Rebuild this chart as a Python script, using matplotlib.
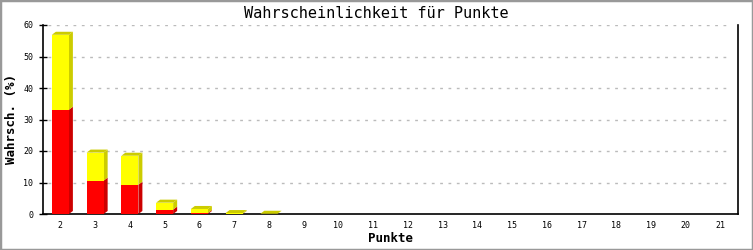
import numpy as np
import matplotlib
matplotlib.use("Agg")
from matplotlib import pyplot as plt
from matplotlib.patches import Polygon, Rectangle

# points 2..21, stacked probabilities in percent
punkte = list(range(2, 22))
rot = [33.1, 10.6, 9.3, 1.4, 0.3, 0.05, 0.0, 0, 0, 0, 0, 0, 0, 0, 0, 0, 0, 0, 0, 0]
gelb = [23.8, 8.9, 9.2, 2.2, 1.3, 0.25, 0.08, 0, 0, 0, 0, 0, 0, 0, 0, 0, 0, 0, 0, 0]

W, H = 753, 250
fig = plt.figure(figsize=(W / 100, H / 100), dpi=100)
ax = fig.add_axes([43 / W, 36 / H, (738 - 43) / W, (214 - 25) / H])

mono = "DejaVu Sans Mono"
x = np.arange(len(punkte))
bw = 0.49
# depth of the fake 3d: ~4px right, ~3px up
dx = 4 / (695 / len(punkte))
dy = 3 / (189 / 60)

def bar3d(xs, bottoms, heights, front, side, top_face):
    for xi, b, h in zip(xs, bottoms, heights):
        if h <= 0:
            continue
        x0, x1 = xi - bw / 2, xi + bw / 2
        t = b + h
        ax.add_patch(Polygon([(x1, b), (x1 + dx, b + dy), (x1 + dx, t + dy), (x1, t)],
                             closed=True, fc=side, ec="none", zorder=3))
        if top_face:
            ax.add_patch(Polygon([(x0, t), (x0 + dx, t + dy), (x1 + dx, t + dy), (x1, t)],
                                 closed=True, fc=side, ec="none", zorder=3))
    ax.bar(xs, heights, bw, bottom=bottoms, color=front, zorder=4, linewidth=0)

rot_a = np.array(rot)
gelb_a = np.array(gelb)
bar3d(x, np.zeros_like(rot_a), rot_a, "#ff0000", "#cc0000", False)
bar3d(x, rot_a, gelb_a, "#ffff00", "#cccc00", True)

ax.set_xlim(-0.5, len(punkte) - 0.5)
ax.set_ylim(0, 60)
ax.set_xticks(x)
ax.set_xticklabels([str(p) for p in punkte], fontfamily=mono, fontsize=6)
ax.set_yticks(range(0, 61, 10))
ax.set_yticklabels([str(v) for v in range(0, 61, 10)], fontfamily=mono, fontsize=6)
ax.tick_params(axis="x", length=0, pad=5)
ax.tick_params(axis="y", direction="inout", length=6, width=1, pad=4)

for v in range(10, 61, 10):
    ax.axhline(v, xmin=0.007, xmax=0.985, color="#bbbbbb", lw=1,
               linestyle=(0, (2, 4)), zorder=1)

for s in ["left", "bottom", "right"]:
    ax.spines[s].set_linewidth(1.2)
    ax.spines[s].set_color("black")
ax.spines["top"].set_visible(False)

ax.set_xlabel("Punkte", fontfamily=mono, fontsize=9, fontweight="bold", va="center")
ax.xaxis.set_label_coords(0.5, (214 - 239) / 189)
ax.set_ylabel("Wahrsch. (%)", fontfamily=mono, fontsize=9, fontweight="bold", va="center")
ax.yaxis.set_label_coords((12 - 43) / 695, 0.5)
fig.text(0.5, 1 - 14 / H, "Wahrscheinlichkeit für Punkte", ha="center", va="center",
         fontfamily=mono, fontsize=11)

fig.patches.append(Rectangle((0, 0), 1, 1, transform=fig.transFigure, fill=False,
                             ec="#999999", lw=2.5))

fig.savefig("out.png", dpi=100)
